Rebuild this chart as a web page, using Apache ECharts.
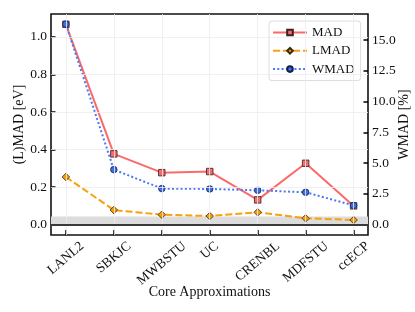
<!DOCTYPE html>
<html>
<head>
<meta charset="utf-8">
<script src="https://cdn.jsdelivr.net/npm/echarts@6/dist/echarts.min.js"></script>
<style>
html,body{margin:0;padding:0;background:#fff;}
#chart{width:415px;height:312px;}
</style>
</head>
<body>
<div id="chart"></div>
<script>
const categories = ['LANL2', 'SBKJC', 'MWBSTU', 'UC', 'CRENBL', 'MDFSTU', 'ccECP'];
const mad  = [1.067, 0.377, 0.277, 0.283, 0.132, 0.327, 0.100];
const lmad = [0.254, 0.078, 0.053, 0.046, 0.066, 0.034, 0.025];
const wmad = [16.29, 4.47, 2.93, 2.90, 2.79, 2.63, 1.56];
const leftTicks  = [0, 0.2, 0.4, 0.6, 0.8, 1.0];
const rightTicks = [0, 2.5, 5, 7.5, 10, 12.5, 15];
const chemAcc = 0.0434;

const FONT = 'Liberation Serif';
const TICK_FS = 13.5;
const ROT = 40;

// per-label padding so each rotated label is centred under its tick (bbox top aligned)
const cv = document.createElement('canvas').getContext('2d');
cv.font = TICK_FS + 'px "' + FONT + '"';
const sinR = Math.sin(ROT * Math.PI / 180), cosR = Math.cos(ROT * Math.PI / 180);
const rich = {};
categories.forEach((c, i) => {
  const w = cv.measureText(c).width;
  const a = w * sinR * sinR, b = w * sinR * cosR;
  rich['c' + i] = { fontFamily: FONT, fontSize: TICK_FS, color: '#111', padding: [b, a, 0, 0] };
});

const idx = categories.map((c, i) => i);
const toPts = arr => arr.map((v, i) => [i, v]);

const chart = echarts.init(document.getElementById('chart'), null, { renderer: 'canvas' });
chart.setOption({
  animation: false,
  backgroundColor: '#fff',
  textStyle: { fontFamily: FONT },
  grid: { left: 51, top: 14, width: 317, height: 221, outerBoundsMode: 'none', containLabel: false,
          show: true, borderColor: '#111', borderWidth: 1.6, backgroundColor: 'transparent' },
  legend: {
    data: ['MAD', 'LMAD', 'WMAD'],
    orient: 'vertical',
    left: 269, top: 21,
    itemWidth: 34, itemHeight: 7, itemGap: 5.3,
    padding: [5, 6, 5, 3],
    backgroundColor: 'rgba(255,255,255,0.85)',
    borderColor: '#dcdcdc', borderWidth: 1, borderRadius: 3,
    textStyle: { fontFamily: FONT, fontSize: 13, color: '#111' }
  },
  xAxis: {
    type: 'value', min: -0.31, max: 6.3,
    name: 'Core Approximations', nameLocation: 'middle', nameGap: 50, nameMoveOverlap: false,
    nameTextStyle: { fontFamily: FONT, fontSize: 14, color: '#111' },
    axisLine: { show: false, onZero: false },
    splitLine: { show: false },
    axisTick: { show: true, inside: true, length: 5, lineStyle: { color: '#000', width: 1.5 }, customValues: idx },
    axisLabel: {
      customValues: idx, rotate: ROT, align: 'center', verticalAlign: 'middle', margin: 9.5,
      formatter: v => { const i = Math.round(v); return '{c' + i + '|' + categories[i] + '}'; },
      rich: rich
    }
  },
  yAxis: [{
    type: 'value', min: -0.055, max: 1.122,
    name: '(L)MAD [eV]', nameLocation: 'middle', nameGap: 25, nameRotate: 90, nameMoveOverlap: false,
    nameTextStyle: { fontFamily: FONT, fontSize: 14, color: '#111' },
    axisLine: { show: false, onZero: false }, splitLine: { show: false },
    axisTick: { show: true, inside: true, length: 4.5, lineStyle: { color: '#000', width: 1.5 }, customValues: leftTicks },
    axisLabel: { customValues: leftTicks, margin: 4, fontFamily: FONT, fontSize: TICK_FS, color: '#111', formatter: v => v.toFixed(1) }
  }, {
    type: 'value', min: -0.84, max: 17.11, position: 'right',
    name: 'WMAD [%]', nameLocation: 'middle', nameGap: 29, nameRotate: 90, nameMoveOverlap: false,
    nameTextStyle: { fontFamily: FONT, fontSize: 14, color: '#111' },
    axisLine: { show: false, onZero: false }, splitLine: { show: false },
    axisTick: { show: true, inside: true, length: 4.5, lineStyle: { color: '#000', width: 1.5 }, customValues: rightTicks },
    axisLabel: { customValues: rightTicks, margin: 4, fontFamily: FONT, fontSize: TICK_FS, color: '#111', formatter: v => v.toFixed(1) }
  }],
  series: [{
    name: 'bg', type: 'line', data: [], yAxisIndex: 0, z: 1, silent: true,
    markArea: {
      silent: true,
      itemStyle: { color: '#dcdcdc' },
      data: [[{ yAxis: 0 }, { yAxis: chemAcc }]]
    },
    markLine: {
      silent: true, symbol: 'none', label: { show: false },
      lineStyle: { color: '#ececec', width: 0.8, type: 'solid' },
      data: idx.map(i => ({ xAxis: i })).concat(leftTicks.filter(t => t !== 0).map(t => ({ yAxis: t })))
        .concat([{ yAxis: 0, lineStyle: { color: '#3a3a3a', width: 1.8, type: 'solid' } }])
    }
  }, {
    name: 'MAD', type: 'line', yAxisIndex: 0, z: 2,
    data: toPts(mad),
    symbol: 'rect', symbolSize: 6.5,
    lineStyle: { color: '#fb6a6a', width: 2 },
    itemStyle: { color: '#f26d6d', borderColor: '#3a2020', borderWidth: 0.8 }
  }, {
    name: 'LMAD', type: 'line', yAxisIndex: 0, z: 3,
    data: toPts(lmad),
    symbol: 'diamond', symbolSize: 7.5,
    lineStyle: { color: '#f7a10c', width: 2, type: [7, 3] },
    itemStyle: { color: '#f59e0b', borderColor: '#3a2a10', borderWidth: 0.8 }
  }, {
    name: 'WMAD', type: 'line', yAxisIndex: 1, z: 4,
    data: toPts(wmad),
    symbol: 'circle', symbolSize: 6.5,
    lineStyle: { color: '#4a78ee', width: 2, type: [2, 2.3] },
    itemStyle: { color: '#3f6fe6', borderColor: '#10204a', borderWidth: 0.8 }
  }]
});
</script>
</body>
</html>
